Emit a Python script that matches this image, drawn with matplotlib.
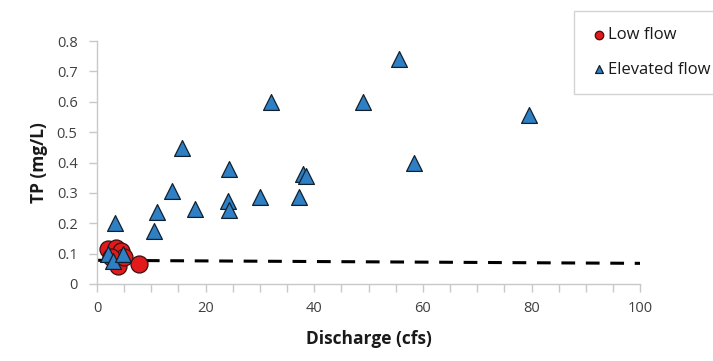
import matplotlib.pyplot as plt
from matplotlib.ticker import MultipleLocator

plt.rcParams['font.family'] = ['Open Sans', 'DejaVu Sans']

# low flow samples (discharge cfs, TP mg/L)
low_q = [2.0, 3.5, 4.5, 3.8, 5.0, 7.8, 2.5]
low_tp = [0.115, 0.12, 0.11, 0.058, 0.09, 0.065, 0.09]

# elevated flow samples
high_q = [3.3, 10.5, 11.0, 13.8, 15.6, 18.0, 24.3, 24.1, 24.3, 30.0, 32.0,
          37.2, 37.9, 38.5, 49.0, 55.5, 58.3, 79.5, 2.0, 3.0, 4.8]
high_tp = [0.20, 0.175, 0.237, 0.306, 0.447, 0.247, 0.38, 0.273, 0.243, 0.286, 0.60,
           0.286, 0.362, 0.357, 0.60, 0.74, 0.398, 0.558, 0.10, 0.075, 0.10]

# dashed reference line
line_q = [0, 100]
line_tp = [0.078, 0.068]

fig = plt.figure(figsize=(7.13, 3.61), dpi=100)
ax = fig.add_axes([0.136, 0.2133, 0.762, 0.673])

ax.plot(line_q, line_tp, color='black', linestyle=(0, (4.5, 3.5)), linewidth=2.2, zorder=1)
ax.scatter(low_q, low_tp, s=150, marker='o', facecolor='#e31a1c', edgecolor='#3a1010',
           linewidth=0.9, label='Low flow', zorder=2)
ax.scatter(high_q, high_tp, s=130, marker='^', facecolor='#2f7fc4', edgecolor='#10202e',
           linewidth=0.9, label='Elevated flow', zorder=3)

ax.set_xlim(0, 100)
ax.set_ylim(0, 0.8)
ax.xaxis.set_major_locator(MultipleLocator(20))
ax.xaxis.set_minor_locator(MultipleLocator(5))
ax.yaxis.set_major_locator(MultipleLocator(0.1))
ax.yaxis.set_major_formatter(plt.FuncFormatter(lambda v, p: '0' if v == 0 else f'{v:.1f}'))

for s in ['top', 'right']:
    ax.spines[s].set_visible(False)
for s in ['left', 'bottom']:
    ax.spines[s].set_color('#c8c8c8')
    ax.spines[s].set_linewidth(1.0)

ax.tick_params(which='both', color='#c8c8c8', length=6, width=1.0,
               labelsize=10.5, labelcolor='#404040')
ax.tick_params(axis='y', pad=8)
ax.tick_params(axis='x', pad=6)

ax.set_xlabel('Discharge (cfs)', fontsize=12.5, fontweight='bold', color='#1a1a1a', labelpad=10)
ax.set_ylabel('TP (mg/L)', fontsize=12.5, fontweight='bold', color='#1a1a1a', labelpad=6)

leg = fig.legend(loc='upper left', bbox_to_anchor=(0.805, 0.97), fontsize=12,
                 markerscale=0.5, handletextpad=0.05, handlelength=1.0,
                 labelspacing=1.1, borderpad=1.0, borderaxespad=0,
                 fancybox=False, frameon=True)
leg.get_frame().set_edgecolor('#c8c8c8')
leg.get_frame().set_linewidth(1.0)
for t in leg.get_texts():
    t.set_color('#1a1a1a')

fig.savefig('out.png', dpi=100)
